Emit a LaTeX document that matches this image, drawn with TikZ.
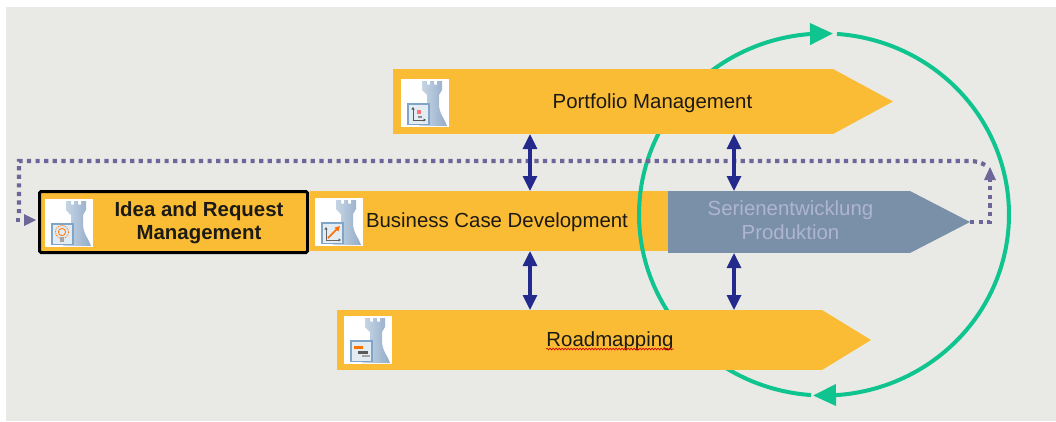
\documentclass[tikz,border=0pt]{standalone}
\usepackage{fontspec}
\setmainfont{Liberation Sans}
\usetikzlibrary{arrows.meta,decorations.pathmorphing}
\definecolor{bgc}{HTML}{E9EAE5}
\definecolor{barc}{HTML}{FBBC35}
\definecolor{greyc}{HTML}{7A8FA8}
\definecolor{greytxt}{HTML}{AFB5CF}
\definecolor{navyc}{HTML}{242A8C}
\definecolor{dotc}{HTML}{6C6699}
\definecolor{ringc}{HTML}{0FC48E}
\definecolor{txtc}{HTML}{1C1A14}
\definecolor{framec}{HTML}{7FA6C9}
\definecolor{towerl}{HTML}{CBD9E8}
\definecolor{towerr}{HTML}{93ACC8}
\tikzset{
  x=1pt,y=-1pt,
  bar/.style={fill=barc,draw=none,inner sep=0pt,outer sep=0pt},
  greybar/.style={fill=greyc,draw=none,inner sep=0pt,outer sep=0pt},
  lab/.style={font=\fontsize{20.4}{23.5}\selectfont,text=txtc,inner sep=0pt,align=center},
  dbl/.style={draw=navyc,line width=3.2pt,{Triangle[length=15pt,width=14pt]}-{Triangle[length=15pt,width=14pt]}},
  dots/.style={draw=dotc,line width=4.2pt,dash pattern=on 4.2pt off 4.4pt},
  dothead/.style={fill=dotc,draw=none},
  ring/.style={draw=ringc,line width=4pt,-{Triangle[length=23pt,width=21pt]}},
  tower/.pic={
    \fill[white] (0,0) rectangle (48,48);
    \shade[left color=towerl,right color=towerr]
      (21,2) -- (26,2) -- (26,5.5) -- (29,5.5) -- (29,2) -- (33,2) -- (33,5.5) -- (36,5.5) -- (36,2) -- (41,2)
      -- (41,11) -- (38,16) -- (38,25) .. controls (38,35) and (44,40) .. (46,47) -- (18,47)
      .. controls (22,38) and (26,34) .. (26,24) -- (26,16) -- (21,11) -- cycle;
    \filldraw[fill=framec!22!white,draw=framec,line width=1.1pt] (7,25) rectangle (28,45.5);
  },
  chartglyph/.pic={
    \draw[black!65,line width=1pt,{Triangle[length=2.5pt,width=3pt]}-{Triangle[length=2.5pt,width=3pt]}] (12,28) -- (12,41) -- (25,41);
    \fill[red!55!white] (16,31) rectangle (20,35);
    \fill[black!45] (17,37) rectangle (21,39);
  },
  riseglyph/.pic={
    \draw[black!60,line width=1pt,{Triangle[length=2.5pt,width=3pt]}-{Triangle[length=2.5pt,width=3pt]}] (11,29) -- (11,42) -- (26,42);
    \draw[orange!85!red,line width=1.5pt,-{Triangle[length=5pt,width=5pt]}] (13,40) -- (25,28);
  },
  bulbglyph/.pic={
    \draw[orange!90!red,line width=.8pt] (17,33) circle (3.6);
    \draw[orange!90!red,line width=.8pt,dash pattern=on 1pt off 1pt] (17,33) circle (6.5);
    \fill[black!35] (15,38) rectangle (19,43);
  },
  barsglyph/.pic={
    \fill[orange!90!red] (10,29.5) rectangle (19,32.5);
    \fill[black!65] (14,34.5) rectangle (24,37.5);
    \fill[black!35] (18,39) rectangle (26,41);
  }
}
\begin{document}
\begin{tikzpicture}[line cap=butt]
\useasboundingbox (0,0) rectangle (1056,421);
\fill[white] (0,0) rectangle (1056,421);
\fill[bgc] (6,7) rectangle (1056,421);
% reference coordinates for the connector columns
\coordinate (colA) at (530,0);
\coordinate (colB) at (734,0);
% business case bar lies beneath the ring
\node[bar,minimum width=358pt,minimum height=60pt] (bc) at (489,221) {};
% the ring
\coordinate (ringtip1) at (813,395.5);
\coordinate (ringtip2) at (833,33.5);
\draw[ring] plot[domain=-86:86,samples=120] ({824+185*cos(\x)},{214.5+181*sin(\x)}) -- (ringtip1);
\draw[ring] plot[domain=94:266,samples=120] ({824+185*cos(\x)},{214.5+181*sin(\x)}) -- (ringtip2);
% portfolio
\node[bar,minimum width=440pt,minimum height=65pt] (pf) at (613,101.5) {};
\coordinate (pftip) at (893,101.5);
\fill[barc] (pf.north east) -- (pftip) -- (pf.south east) -- cycle;
% roadmapping
\node[bar,minimum width=485pt,minimum height=60pt] (rm) at (579.5,340) {};
\coordinate (rmtip) at (871,340);
\fill[barc] (rm.north east) -- (rmtip) -- (rm.south east) -- cycle;
% grey bar
\node[greybar,minimum width=242pt,minimum height=62pt] (gr) at (789,222) {};
\coordinate (grtip) at (970,222);
\fill[greyc] (gr.north east) -- (grtip) -- (gr.south east) -- cycle;
% idea box
\node[bar,draw=black,line width=3pt,rounded corners=1.5pt,minimum width=268pt,minimum height=61pt] (idea) at (173.5,222) {};
% icons
\pic at (45,199) {tower};  \pic at (45,199) {bulbglyph};
\pic at (315,198) {tower}; \pic at (315,198) {riseglyph};
\pic at (401,79) {tower};  \pic at (401,79) {chartglyph};
\pic at (344,316) {tower}; \pic at (344,316) {barsglyph};
% dotted feedback line
\coordinate (up) at (990,180);
\coordinate (upturn) at (990,222);
\coordinate (topL) at (19,161);
\coordinate (leftturn) at (19,213);
\draw[dots] (grtip) -- (upturn) -- (up);
\fill[dothead] (990,167) -- (984,180) -- (996,180) -- cycle;
\draw[dots] (985,165) .. controls (980,162) and (976,161) .. (968,161) -- (topL) -- (leftturn);
\draw[dots] (16,220) -- (24,220);
\fill[dothead] (36,220) -- (24,214) -- (24,226) -- cycle;
% double arrows
\draw[dbl] (pf.south -| colA) -- (bc.north -| colA);
\draw[dbl] (pf.south -| colB) -- (gr.north -| colB);
\draw[dbl] (bc.south -| colA) -- (rm.north -| colA);
\draw[dbl] (gr.south -| colB) -- (rm.north -| colB);
% labels
\node[lab] (pflab) at (652.5,103) {Portfolio Management};
\node[lab] (bclab) at (497,222) {Business Case Development};
\node[lab,font=\fontsize{20.4}{23.5}\selectfont\bfseries] (idlab) at (199,223) {Idea and Request\\Management};
\node[lab,text=greytxt] (grlab) at (790.5,220) {Serienentwicklung\\Produktion};
\node[lab] (rmlab) at (610,341) {Roadmapping};
\draw[red!85!black,line width=.7pt,decorate,decoration={zigzag,segment length=3pt,amplitude=.8pt}] (rmlab.south west |- 0,349) -- (rmlab.south east |- 0,349);
\end{tikzpicture}
\end{document}
